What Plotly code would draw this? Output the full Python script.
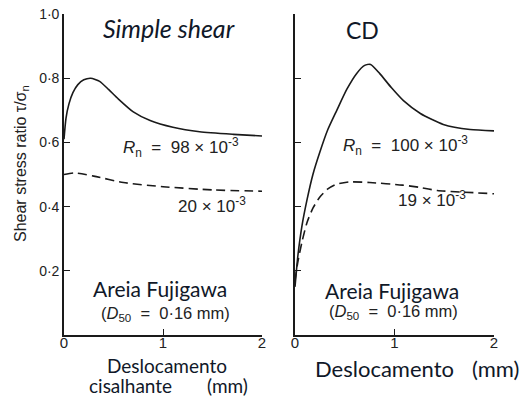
import plotly.graph_objects as go

# ---- data ----
ss_x_solid = [0.0, 0.02, 0.05, 0.09, 0.14, 0.20, 0.27, 0.36, 0.45, 0.55, 0.70, 0.87, 1.10, 1.37, 1.71, 2.0]
ss_y_solid = [0.61, 0.675, 0.72, 0.755, 0.78, 0.795, 0.80, 0.79, 0.765, 0.735, 0.695, 0.668, 0.647, 0.633, 0.625, 0.62]
ss_x_dash = [0.0, 0.1, 0.3, 0.6, 1.0, 1.5, 2.0]
ss_y_dash = [0.50, 0.505, 0.495, 0.475, 0.462, 0.452, 0.448]

cd_x_solid = [0.0, 0.03, 0.07, 0.12, 0.18, 0.25, 0.33, 0.42, 0.52, 0.62, 0.70, 0.76, 0.85, 0.97, 1.09, 1.26, 1.49, 1.76, 2.0]
cd_y_solid = [0.15, 0.25, 0.34, 0.42, 0.50, 0.57, 0.64, 0.70, 0.765, 0.815, 0.84, 0.843, 0.815, 0.77, 0.73, 0.69, 0.656, 0.64, 0.636]
cd_x_dash = [0.0, 0.03, 0.07, 0.12, 0.18, 0.25, 0.33, 0.42, 0.55, 0.75, 1.08, 1.25, 1.43, 1.7, 2.0]
cd_y_dash = [0.17, 0.23, 0.29, 0.35, 0.395, 0.43, 0.455, 0.47, 0.477, 0.475, 0.467, 0.46, 0.45, 0.445, 0.44]

y_tickvals = [0.2, 0.4, 0.6, 0.8, 1.0]
y_ticktext = ["0·2", "0·4", "0·6", "0·8", "1·0"]
x_tickvals = [0, 1, 2]
x_ticktext = ["0", "1", "2"]

INK = "#1a1a1a"
TXT = "#101828"
W, H = 524, 396

fig = go.Figure()
line_solid = dict(color=INK, width=1.6, shape="spline", smoothing=0.6)
line_dash = dict(color=INK, width=1.6, shape="spline", smoothing=0.6, dash="9px,5px")

fig.add_trace(go.Scatter(x=ss_x_solid, y=ss_y_solid, mode="lines", line=line_solid, xaxis="x", yaxis="y", showlegend=False))
fig.add_trace(go.Scatter(x=ss_x_dash, y=ss_y_dash, mode="lines", line=line_dash, xaxis="x", yaxis="y", showlegend=False))
fig.add_trace(go.Scatter(x=cd_x_solid, y=cd_y_solid, mode="lines", line=line_solid, xaxis="x2", yaxis="y2", showlegend=False))
fig.add_trace(go.Scatter(x=cd_x_dash, y=cd_y_dash, mode="lines", line=line_dash, xaxis="x2", yaxis="y2", showlegend=False))

ydom = [(396 - 335) / H, (396 - 14) / H]
ax_common = dict(showgrid=False, zeroline=False, showline=True, linecolor=INK, linewidth=1.6,
                 ticks="inside", ticklen=6, tickwidth=1.4, tickcolor=INK, automargin=False,
                 tickfont=dict(family="Liberation Sans", size=15, color="#222"))
x_common = {**ax_common, "ticklabelstandoff": -7}

fig.update_layout(
    width=W, height=H,
    margin=dict(l=0, r=0, t=0, b=0),
    paper_bgcolor="white", plot_bgcolor="white",
    xaxis=dict(domain=[64 / W, 262 / W], range=[0, 2], anchor="y",
               tickvals=x_tickvals, ticktext=x_ticktext, **x_common),
    yaxis=dict(domain=ydom, range=[0, 1.0], anchor="x",
               tickvals=y_tickvals, ticktext=y_ticktext,
               **{**ax_common, "tickfont": dict(family="Liberation Sans", size=14, color="#222")}),
    xaxis2=dict(domain=[295 / W, 494 / W], range=[0, 2], anchor="y2",
                tickvals=x_tickvals, ticktext=x_ticktext, **x_common),
    yaxis2=dict(domain=ydom, range=[0, 1.0], anchor="x2",
                tickvals=y_tickvals, showticklabels=False, **ax_common),
)

def ann(x, y, text, size, family="Liberation Sans", color="#222", xanchor="center", angle=0):
    fig.add_annotation(x=x / W, y=1 - y / H, xref="paper", yref="paper", text=text,
                       showarrow=False, xanchor=xanchor, yanchor="middle", textangle=angle,
                       font=dict(family=family, size=size, color=color))

ann(21, 164, "Shear stress ratio τ/σ<sub>n</sub>", 16, angle=-90)
ann(169, 28, "<i>Simple shear</i>", 25, "Lato", TXT)
ann(362, 30, "CD", 23, "Lato", TXT)
ann(181, 147, "<i>R</i><sub>n</sub>  =  98 × 10<sup>-3</sup>", 17)
ann(212, 205, "20 × 10<sup>-3</sup>", 17)
ann(405, 145, "<i>R</i><sub>n</sub>  =  100 × 10<sup>-3</sup>", 17)
ann(432, 199, "19 × 10<sup>-3</sup>", 17)
ann(160, 288, "Areia Fujigawa", 21, "Lato", TXT)
ann(165, 314, "(<i>D</i><sub>50</sub>  =  0·16 mm)", 16.5)
ann(392, 290, "Areia Fujigawa", 21, "Lato", TXT)
ann(393, 312, "(<i>D</i><sub>50</sub>  =  0·16 mm)", 16.5)
ann(167, 365, "Deslocamento", 19, "Lato", TXT)
ann(87, 385, "cisalhante", 19, "Lato", TXT, xanchor="left")
ann(250, 385, "(mm)", 19, "Lato", TXT, xanchor="right")
ann(313, 368, "Deslocamento", 22, "Lato", TXT, xanchor="left")
ann(521, 368, "(mm)", 22, "Lato", TXT, xanchor="right")

fig.write_html("out.html", config={"displayModeBar": False},
               post_script="document.body.style.margin='0';document.body.style.padding='0';")
